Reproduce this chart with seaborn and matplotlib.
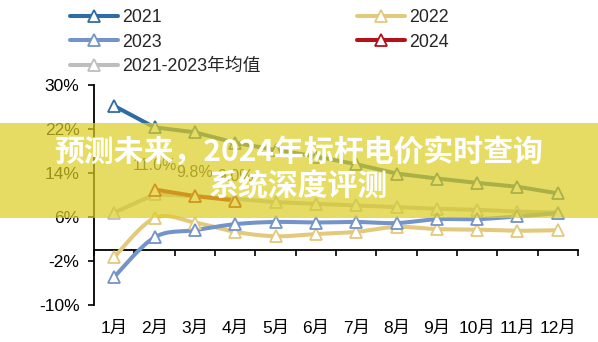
import numpy as np
import pandas as pd
import matplotlib
matplotlib.use("Agg")
import matplotlib.pyplot as plt
import matplotlib.transforms as mtransforms
from matplotlib.lines import Line2D
from matplotlib.patches import Rectangle
import seaborn as sns

# ---- data -------------------------------------------------------------
months = ["1月", "2月", "3月", "4月", "5月", "6月", "7月", "8月", "9月", "10月", "11月", "12月"]
y2021 = [26.2, 22.3, 21.4, 19.5, 18.2, 17.0, 15.6, 13.9, 13.0, 12.2, 11.5, 10.3]
y2022 = [-1.3, 5.8, 5.0, 3.3, 2.5, 2.9, 3.3, 4.2, 3.8, 3.7, 3.5, 3.6]
y2023 = [-4.9, 2.3, 3.6, 4.7, 5.1, 5.0, 5.1, 4.9, 5.6, 5.6, 6.1, 6.7]
y2024 = [np.nan, 11.0, 9.8, 9.0, np.nan, np.nan, np.nan, np.nan, np.nan, np.nan, np.nan, np.nan]
y_avg = [6.8, 10.1, 9.8, 9.3, 8.7, 8.4, 8.1, 7.8, 7.5, 7.3, 7.0, 6.8]
y_ticks = [-10, -2, 6, 14, 22, 30]
title_lines = ["预测未来，2024年标杆电价实时查询", "系统深度评测"]

# ---- styling ----------------------------------------------------------
sns.set_theme(style="white")
plt.rcParams["font.family"] = ["Liberation Sans", "Noto Sans CJK SC", "DejaVu Sans"]

C2021 = "#2E6DA4"
C2022 = "#E2C97C"
C2023 = "#7493C9"
C2024 = "#B3121B"
CAVG = "#BEBEBE"
LW = 2.9
MS = 8
MEW = 1.3


def smooth_path(x, y, steps=20):
    """Cubic Bezier (Catmull-Rom style) path through the points."""
    x = np.asarray(x, float)
    y = np.asarray(y, float)
    px, py = [], []
    n = len(x)
    for i in range(n - 1):
        x0, y0 = (x[i - 1], y[i - 1]) if i > 0 else (x[i], y[i])
        x1, y1 = x[i], y[i]
        x2, y2 = x[i + 1], y[i + 1]
        x3, y3 = (x[i + 2], y[i + 2]) if i + 2 < n else (x[i + 1], y[i + 1])
        c1x, c1y = x1 + (x2 - x0) / 6, y1 + (y2 - y0) / 6
        c2x, c2y = x2 - (x3 - x1) / 6, y2 - (y3 - y1) / 6
        t = np.linspace(0, 1, steps, endpoint=(i == n - 2))
        b0, b1, b2, b3 = (1 - t) ** 3, 3 * (1 - t) ** 2 * t, 3 * (1 - t) * t ** 2, t ** 3
        px.append(b0 * x1 + b1 * c1x + b2 * c2x + b3 * x2)
        py.append(b0 * y1 + b1 * c1y + b2 * c2y + b3 * y2)
    return np.concatenate(px), np.concatenate(py)


fig = plt.figure(figsize=(5.98, 3.42), dpi=100)
ax = fig.add_axes([94 / 598, 37 / 342, 484 / 598, 220 / 342])

idx = np.arange(len(months))
series = [
    ("2021-2023年均值", y_avg, CAVG, False),
    ("2021", y2021, C2021, False),
    ("2022", y2022, C2022, True),
    ("2023", y2023, C2023, True),
    ("2024", y2024, C2024, False),
]

for name, vals, col, smooth in series:
    vals = np.asarray(vals, float)
    ok = ~np.isnan(vals)
    xs, ys = idx[ok], vals[ok]
    if smooth:
        sx, sy = smooth_path(xs, ys)
    else:
        sx, sy = xs, ys
    sns.lineplot(x=sx, y=sy, ax=ax, color=col, lw=LW, sort=False,
                 estimator=None, solid_capstyle="round", zorder=3)
    ax.plot(xs, ys, ls="none", marker="^", ms=MS, mfc="white", mec=col,
            mew=MEW, zorder=4)

# value labels for 2024
for i, v in enumerate(y2024):
    if not np.isnan(v):
        ax.annotate(f"{v:.1f}%", (i, v), xytext=(0, 17), textcoords="offset points",
                    ha="center", va="center", fontsize=11.5, color="#3A3A3A", zorder=5)

# ---- axes -------------------------------------------------------------
ax.set_xlim(-0.5, len(months) - 0.5)
ax.set_ylim(-10, 30)
ax.set_yticks(y_ticks)
ax.set_yticklabels([f"{t}%" for t in y_ticks], fontsize=12.5, color="black")
ax.set_xticks(np.arange(-0.5, len(months), 1.0))
ax.set_xticklabels([])
ax.tick_params(axis="y", direction="out", length=4.5, width=1.2, pad=6, left=True, color="black")
ax.tick_params(axis="x", direction="out", length=4.5, width=1.2, bottom=True, color="black")
for s in ["top", "right"]:
    ax.spines[s].set_visible(False)
ax.spines["left"].set_color("black")
ax.spines["left"].set_linewidth(1.3)
ax.spines["bottom"].set_color("black")
ax.spines["bottom"].set_linewidth(1.3)
ax.spines["bottom"].set_position(("data", 0))
ax.set_xlabel("")
ax.set_ylabel("")

trans = mtransforms.blended_transform_factory(ax.transData, ax.transAxes)
for i, m in enumerate(months):
    ax.text(i, -0.108, m, transform=trans, ha="center", va="center",
            fontsize=12.5, color="black")

# ---- legend -----------------------------------------------------------
def handle(col):
    return Line2D([0], [0], color=col, lw=LW, marker="^", ms=MS, mfc="white",
                  mec=col, mew=MEW, solid_capstyle="round")

handles = [handle(C2021), handle(C2023), handle(CAVG), handle(C2022), handle(C2024)]
labels = ["2021", "2023", "2021-2023年均值", "2022", "2024"]
fig.legend(handles, labels, ncol=2, loc="upper left", bbox_to_anchor=(68 / 598, 1 - 7 / 342),
           frameon=False, fontsize=12.8, handlelength=2.7, handletextpad=0.25,
           columnspacing=5.4, labelspacing=0.44, borderpad=0.1, borderaxespad=0)

# ---- banner -----------------------------------------------------------
fig.patches.append(Rectangle((0, (342 - 218) / 342), 1, 95 / 342, transform=fig.transFigure,
                             facecolor=(222 / 255, 206 / 255, 33 / 255), alpha=0.7,
                             edgecolor="none", zorder=10))
fig.text(0.5, 1 - 152 / 342, title_lines[0], ha="center", va="center", fontsize=21.5,
         fontweight="heavy", color="white", family=["Noto Sans CJK SC", "DejaVu Sans"], zorder=11)
fig.text(0.5, 1 - 186 / 342, title_lines[1], ha="center", va="center", fontsize=21.5,
         fontweight="heavy", color="white", family=["Noto Sans CJK SC", "DejaVu Sans"], zorder=11)

fig.savefig("out.png", dpi=100)
